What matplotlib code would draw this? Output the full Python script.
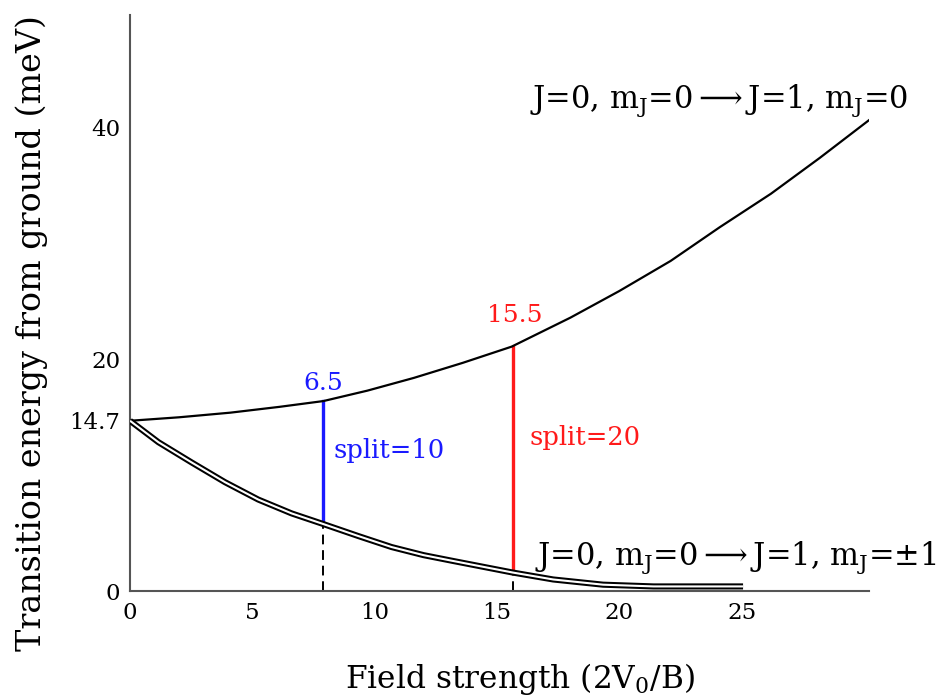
import matplotlib
matplotlib.use('Agg')
import matplotlib.pyplot as plt

plt.rcParams['font.family'] = ['DejaVu Serif']
plt.rcParams['mathtext.fontset'] = 'custom'
plt.rcParams['mathtext.rm'] = 'DejaVu Serif'
plt.rcParams['mathtext.it'] = 'DejaVu Serif'

# upper branch: J=0, mJ=0 -> J=1, mJ=0
upper_x = [0, 2.0, 4.1, 6.1, 7.9, 9.7, 11.6, 13.6, 15.6, 18.0, 20.0, 22.1, 24.1, 26.2, 28.2, 30.3]
upper_y = [14.7, 15.0, 15.4, 15.9, 16.4, 17.3, 18.4, 19.7, 21.1, 23.6, 25.9, 28.5, 31.4, 34.3, 37.4, 40.8]

# lower branch: J=0, mJ=0 -> J=1, mJ=±1
lower_x = [0, 1.16, 2.52, 3.88, 5.24, 6.61, 7.88, 9.33, 10.69, 12.0, 13.2, 15.64, 17.3, 19.34, 21.4, 25.06]
lower_y = [14.7, 12.85, 11.1, 9.4, 7.9, 6.7, 5.8, 4.75, 3.8, 3.1, 2.6, 1.6, 1.0, 0.55, 0.4, 0.4]

# split markers
split_x = [7.88, 15.64]
split_lo = [5.8, 1.6]
split_hi = [16.4, 21.1]
split_colors = ['#1a1aff', '#ff1a1a']
split_top_labels = ['6.5', '15.5']
split_labels = ['split=10', 'split=20']

xticks = [0, 5, 10, 15, 20, 25]
yticks = [0, 14.7, 20, 40]
ytick_labels = ['0', '14.7', '20', '40']

fig = plt.figure(figsize=(9.52, 6.97), dpi=100)
ax = fig.add_axes([0.1366, 0.152, 0.776, 0.826])

ax.plot(upper_x, upper_y, color='black', lw=1.6, solid_capstyle='butt', zorder=3)
ax.plot(lower_x, lower_y, color='black', lw=4.4, solid_capstyle='butt', zorder=3)
ax.plot(lower_x, lower_y, color='white', lw=1.5, solid_capstyle='butt', zorder=4)

top_pad = [1.5, 2.7]
mid_pad = [1.0, 1.9]
side_pad = [0.42, 0.7]
for i, (x, lo, hi) in enumerate(zip(split_x, split_lo, split_hi)):
    c = split_colors[i]
    ax.plot([x, x], [lo, hi], color=c, lw=2.4, zorder=2)
    ax.plot([x, x], [0, lo], color='black', lw=1.4, ls=(0, (5, 3)), zorder=1)
    ax.text(x + 0.1 * i, hi + top_pad[i], split_top_labels[i], color=c, fontsize=18,
            ha='center', va='center')
    ax.text(x + side_pad[i], (lo + hi) / 2 + mid_pad[i], split_labels[i], color=c,
            fontsize=18.5, ha='left', va='center')

ax.text(16.35, 42.3, r'J=0, m$_\mathregular{J}$=0$\longrightarrow$J=1, m$_\mathregular{J}$=0',
        fontsize=22, ha='left', va='center')
ax.text(16.55, 2.85, r'J=0, m$_\mathregular{J}$=0$\longrightarrow$J=1, m$_\mathregular{J}$=$\pm$1',
        fontsize=22, ha='left', va='center', clip_on=False)

ax.set_xlim(0, 30.2)
ax.set_ylim(0, 49.7)
ax.set_xticks(xticks)
ax.set_yticks(yticks)
ax.set_yticklabels(ytick_labels)
ax.tick_params(axis='x', length=0, labelsize=16.5, pad=8)
ax.tick_params(axis='y', length=0, labelsize=16.5, pad=7)

for s in ['top', 'right']:
    ax.spines[s].set_visible(False)
for s in ['left', 'bottom']:
    ax.spines[s].set_color('#555555')
    ax.spines[s].set_linewidth(1.5)

ax.set_xlabel(r'Field strength (2V$_0$/B)', fontsize=22.5)
ax.set_ylabel('Transition energy from ground (meV)', fontsize=24)
ax.xaxis.set_label_coords(0.528, -0.121)
ax.yaxis.set_label_coords(-0.111, 0.448)

fig.savefig('out.png', dpi=100)
